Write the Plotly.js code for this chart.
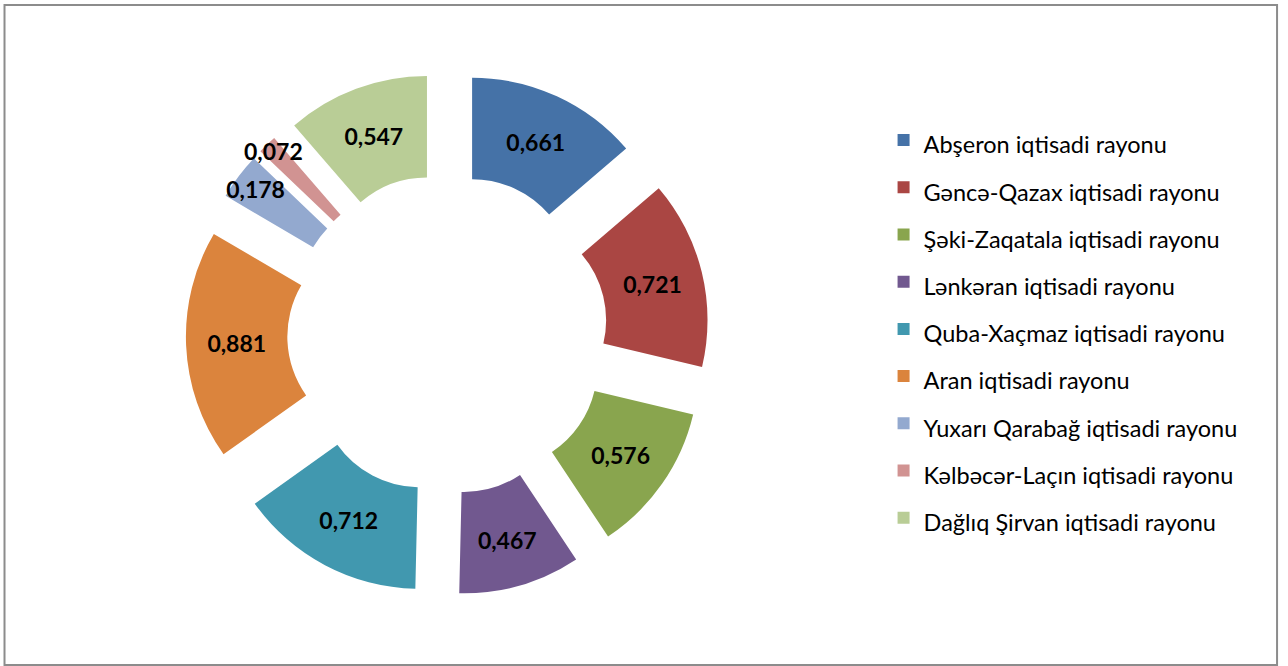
<!DOCTYPE html>
<html>
<head>
<meta charset="utf-8">
<script src="https://cdn.plot.ly/plotly-3.0.1.min.js"></script>
<style>
html,body{margin:0;padding:0;background:#fff;}
#chart{width:1288px;height:666px;}
</style>
</head>
<body>
<div id="chart"></div>
<script>
const regions = [
  "Abşeron iqtisadi rayonu",
  "Gəncə-Qazax iqtisadi rayonu",
  "Şəki-Zaqatala iqtisadi rayonu",
  "Lənkəran iqtisadi rayonu",
  "Quba-Xaçmaz iqtisadi rayonu",
  "Aran iqtisadi rayonu",
  "Yuxarı Qarabağ iqtisadi rayonu",
  "Kəlbəcər-Laçın iqtisadi rayonu",
  "Dağlıq Şirvan iqtisadi rayonu"
];
const values = [0.661, 0.721, 0.576, 0.467, 0.712, 0.881, 0.178, 0.072, 0.547];
const valueLabels = ["0,661", "0,721", "0,576", "0,467", "0,712", "0,881", "0,178", "0,072", "0,547"];
const colors = ["#4572A7", "#AA4643", "#89A54E", "#71588F", "#4198AF", "#DB843D", "#93A9CF", "#D19392", "#B9CD96"];

const legendLabels = regions.map(r => '<span style="font-size:23.5px">' + r + '</span>');

const trace = {
  type: 'pie',
  labels: legendLabels,
  values: values,
  text: valueLabels,
  textinfo: 'text',
  textposition: 'inside',
  insidetextorientation: 'horizontal',
  textfont: {family: 'Lato, "Open Sans", sans-serif', size: 23, color: '#000', weight: 'bold'},
  hole: 0.5,
  pull: 0.29,
  sort: false,
  direction: 'clockwise',
  rotation: 0,
  marker: {colors: colors, line: {width: 0}},
  domain: {x: [0.1443, 0.5506], y: [0.1056, 0.8914]},
  hoverinfo: 'none'
};

const layout = {
  width: 1288, height: 666,
  margin: {l: 0, r: 0, t: 0, b: 0},
  paper_bgcolor: '#fff',
  showlegend: true,
  uniformtext: {mode: 'show', minsize: 23},
  legend: {
    x: 0.686, y: 0.506, xanchor: 'left', yanchor: 'middle',
    font: {family: 'Lato, "Open Sans", sans-serif', size: 34, color: '#000'},
    itemwidth: 30
  },
  shapes: [{
    type: 'rect', xref: 'paper', yref: 'paper',
    x0: 0.0035, x1: 0.9915, y0: 0.0015, y1: 0.9925,
    line: {color: '#8c8c8c', width: 2}
  }]
};

Plotly.newPlot('chart', [trace], layout, {displayModeBar: false, staticPlot: true});
</script>
</body>
</html>
